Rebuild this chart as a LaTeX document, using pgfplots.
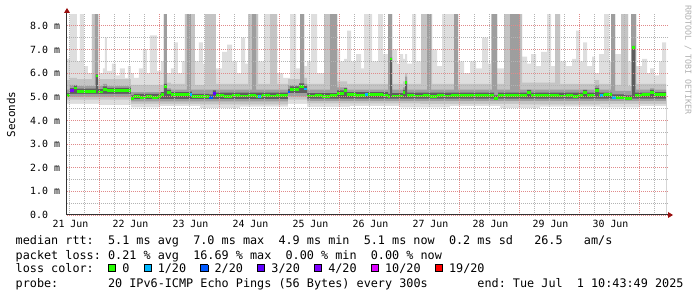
\documentclass[border=0pt]{standalone}
\usepackage{pgfplots}
\usepackage{pgfplotstable}
\pgfplotsset{compat=1.18}
\usepackage{fontspec}
\setmonofont{DejaVu Sans Mono}
\definecolor{sA}{HTML}{DEDEDE}
\definecolor{sB}{HTML}{C4C4C4}
\definecolor{sC}{HTML}{9E9E9E}
\definecolor{sD}{HTML}{5E5E5E}
\definecolor{lossA}{HTML}{26FF00}
\definecolor{lossB}{HTML}{00B8FF}
\definecolor{lossC}{HTML}{0059FF}
\definecolor{lossD}{HTML}{5E00FF}
\definecolor{lossE}{HTML}{7E00FF}
\definecolor{lossF}{HTML}{DD00FF}
\definecolor{lossG}{HTML}{FF0000}
\definecolor{mgrid}{HTML}{E08A8A}
\definecolor{ngrid}{HTML}{B4B4B4}
\definecolor{arr}{HTML}{9A1010}
\definecolor{wm}{HTML}{B0B0B0}
\newcommand\lbox[1]{\makebox[0.602em][l]{\raisebox{1pt}{\fboxsep=0pt\fboxrule=0.9pt\fcolorbox{black}{#1}{\rule{0pt}{6.2pt}\rule{6.2pt}{0pt}}}}}

\pgfplotstableread{
x y
67 6.6
70 8.5
77 6.5
80 8.5
84 6.3
88 6.0
92 8.5
100 6.0
103 6.2
105 7.5
107 6.1
112 6.4
116 5.9
120 6.2
125 5.8
128 6.3
131 6.0
134 5.8
139 6.2
143 7.0
147 6.0
150 7.6
157 6.1
161 6.5
164 8.5
167 6.0
171 6.2
174 7.3
178 6.0
182 6.5
185 8.5
195 6.5
199 7.3
203 6.4
205 8.5
216 6.2
222 6.9
227 7.2
232 6.5
237 6.0
241 7.5
245 6.4
248 8.5
258 6.5
264 8.5
277 6.0
283 5.8
290 8.5
296 6.2
300 8.5
304 6.3
307 6.5
311 8.5
317 6.0
324 8.5
337 7.0
340 6.5
344 6.6
347 7.8
351 6.5
356 6.8
361 6.2
364 8.5
372 6.5
378 8.5
383 6.8
388 8.5
392 7.0
397 6.4
400 6.8
403 6.6
405 6.8
407 6.4
412 8.5
416 6.5
421 8.5
432 7.0
437 6.3
442 8.5
458 6.5
464 6.0
470 6.5
476 6.2
482 7.5
488 6.4
491 8.5
497 6.2
504 8.5
522 6.7
527 6.4
531 6.8
536 6.3
541 6.9
547 8.5
551 6.3
555 8.5
560 6.5
566 6.3
572 6.6
576 7.8
580 6.5
583 7.3
587 6.3
592 6.7
595 6.0
599 6.8
604 8.5
609 6.5
611 8.5
615 6.8
621 8.5
628 6.5
631 8.5
636 6.3
642 6.6
647 6.0
650 6.2
654 5.9
659 6.5
662 7.3
666 7.3
}\hA

\pgfplotstableread{
x y
67 5.7
70 5.8
77 5.75
92 8.5
98 5.75
131 5.5
164 8.5
167 5.6
171 5.55
185 8.5
195 5.5
205 8.5
216 5.55
248 8.5
258 5.55
270 8.5
277 5.55
288 5.75
300 8.5
304 5.8
307 5.55
324 8.5
337 5.65
347 5.55
388 8.5
392 5.55
403 5.65
405 6.0
407 5.55
421 8.5
432 5.55
454 8.5
458 5.55
491 8.5
497 5.55
504 8.5
522 5.6
555 8.5
560 5.55
595 5.7
599 5.55
611 8.5
615 5.5
621 8.5
628 5.45
631 8.5
636 5.55
666 5.55
}\hB

\pgfplotstableread{
x y
67 5.3
70 5.5
77 5.45
95 8.5
98 5.45
103 5.55
107 5.45
131 5.2
164 8.5
167 5.35
171 5.3
187 8.5
191 5.3
252 8.5
256 5.3
288 5.5
300 8.5
304 5.55
307 5.3
330 8.5
337 5.4
347 5.3
388 8.5
392 5.3
403 5.4
405 5.85
407 5.3
427 8.5
431 5.3
454 8.5
458 5.3
492 8.5
497 5.3
510 8.5
520 5.3
595 5.5
599 5.3
611 8.5
615 5.25
631 8.5
636 5.3
650 5.35
654 5.3
666 5.3
}\hC

\pgfplotstableread{
x y
67 5.15
70 5.37
74 5.47
77 5.34
96 5.95
98 5.32
103 5.44
107 5.38
131 5.06
134 5.12
161 5.2
164 5.55
167 5.29
171 5.2
190 5.22
192 5.12
209 5.1
213 5.27
216 5.17
288 5.32
290 5.44
299 5.57
304 5.45
307 5.15
337 5.27
344 5.37
347 5.2
388 5.12
390 6.65
392 5.15
403 5.29
405 5.65
407 5.17
494 5.06
498 5.17
527 5.29
531 5.17
583 5.29
587 5.17
595 5.37
599 5.17
612 5.1
625 5.06
632 7.15
635 5.17
650 5.29
654 5.2
666 5.2
}\hD

\pgfplotstableread{
x y
67 5.12
131 4.9
288 5.15
307 4.92
666 4.92
}\lD

\pgfplotstableread{
x y
67 5.0
131 4.8
288 5.02
307 4.82
666 4.82
}\lC

\pgfplotstableread{
x y
67 4.88
131 4.7
200 4.68
288 4.88
307 4.72
420 4.7
520 4.68
600 4.7
666 4.72
}\lB

\pgfplotstableread{
x y
67 4.7
100 4.65
131 4.55
160 4.6
200 4.52
240 4.58
288 4.7
307 4.57
350 4.6
400 4.55
450 4.6
500 4.52
540 4.58
600 4.55
640 4.6
666 4.6
}\lA

\pgfplotstableread{
x y
67 5.05
70 5.25
74 5.37
77 5.22
96 5.88
98 5.2
103 5.32
107 5.26
131 4.94
134 5.0
140 4.97
146 5.02
152 4.98
158 5.0
161 5.08
164 5.45
167 5.17
171 5.08
190 5.1
192 5.0
209 4.97
213 5.15
216 5.05
224 5.02
232 5.06
240 5.03
248 5.07
256 5.02
262 5.05
270 5.03
276 5.06
282 5.04
288 5.2
290 5.32
299 5.45
304 5.33
307 5.03
315 5.05
322 5.02
330 5.04
337 5.15
344 5.25
347 5.08
356 5.06
365 5.1
368 5.08
378 5.1
383 5.06
388 5.0
390 6.6
392 5.03
403 5.17
405 5.6
407 5.05
415 5.03
423 5.06
430 5.02
437 5.05
444 5.03
451 5.06
458 5.04
465 5.07
472 5.05
480 5.06
487 5.04
494 4.94
498 5.05
505 5.07
512 5.04
520 5.06
527 5.17
531 5.05
538 5.07
545 5.04
552 5.06
559 5.03
566 5.05
573 5.02
578 5.05
583 5.17
587 5.05
595 5.25
599 5.05
604 5.08
612 4.98
625 4.94
632 7.1
635 5.05
642 5.08
650 5.17
654 5.08
666 5.08
}\med

\begin{document}
\begin{tikzpicture}
\useasboundingbox (-67pt,-82pt) rectangle (630pt,215pt);
\begin{axis}[
  at={(0,0)}, anchor=south west,
  scale only axis, width=601pt, height=201pt,
  xmin=67, xmax=668, ymin=0, ymax=8.5,
  axis x line*=bottom, axis y line*=left,
  axis line style={draw=none},
  major tick length=0pt, minor tick length=0pt,
  xtick={69,129,...,609},
  xticklabels={21 Jun,22 Jun,23 Jun,24 Jun,25 Jun,26 Jun,27 Jun,28 Jun,29 Jun,30 Jun},
  extra x ticks={99,159,...,639},
  extra x tick labels={},
  extra x tick style={grid=major, major x grid style={mgrid, line width=0.8pt, dash pattern=on 1pt off 1pt}},
  minor xtick={84,114,...,654},
  ytick={0,1,...,8},
  yticklabels={0.0,1.0 m,2.0 m,3.0 m,4.0 m,5.0 m,6.0 m,7.0 m,8.0 m},
  minor ytick={0.5,1.5,...,7.5},
  grid=both,
  major x grid style={ngrid, line width=0.8pt, dash pattern=on 1pt off 1pt},
  minor x grid style={ngrid, line width=0.8pt, dash pattern=on 1pt off 1pt},
  major y grid style={mgrid, line width=0.8pt, dash pattern=on 1pt off 1pt},
  minor y grid style={ngrid, line width=0.8pt, dash pattern=on 1pt off 1pt},
  axis on top,
  xticklabel style={font=\ttfamily\fontsize{9.9}{10}\selectfont, anchor=base, inner sep=0pt, yshift=-13pt, xshift=1.5pt},
  yticklabel style={font=\ttfamily\fontsize{9.9}{10}\selectfont, anchor=west, inner sep=0pt, xshift=-37pt},
]
\addplot[const plot mark left, fill=sA, draw=none] table {\hA} \closedcycle;
\addplot[const plot mark left, fill=sB, draw=none] table {\hB} \closedcycle;
\addplot[const plot mark left, fill=sC, draw=none] table {\hC} \closedcycle;
\addplot[const plot mark left, fill=sD, draw=none] table {\hD} \closedcycle;
\addplot[const plot mark left, fill=sC, draw=none] table {\lD} \closedcycle;
\addplot[const plot mark left, fill=sB, draw=none] table {\lC} \closedcycle;
\addplot[const plot mark left, fill=sA, draw=none] table {\lB} \closedcycle;
\addplot[const plot mark left, fill=white, draw=none] table {\lA} \closedcycle;
\addplot[jump mark left, lossA, line width=2.8pt] table {\med};
\addplot[jump mark left, lossE, line width=2.8pt] coordinates {(70,5.25) (74,5.25)};
\addplot[jump mark left, lossB, line width=2.8pt] coordinates {(190,5.1) (192,5.1)};
\addplot[jump mark left, lossC, line width=2.8pt] coordinates {(209,4.97) (213,4.97)};
\addplot[jump mark left, lossD, line width=2.8pt] coordinates {(213,5.15) (216,5.15)};
\addplot[jump mark left, lossB, line width=2.8pt] coordinates {(258,5.02) (261,5.02)};
\addplot[jump mark left, lossC, line width=2.8pt] coordinates {(288,5.2) (290,5.2)};
\addplot[jump mark left, lossB, line width=2.8pt] coordinates {(304,5.33) (307,5.33)};
\addplot[jump mark left, lossB, line width=2.8pt] coordinates {(365,5.1) (368,5.1)};
\addplot[jump mark left, lossB, line width=2.8pt] coordinates {(600,5.05) (603,5.05)};
\addplot[jump mark left, lossB, line width=2.8pt] coordinates {(612,4.98) (616,4.98)};
\end{axis}
\draw[line width=1pt, black!80] (0,0) -- (602pt,0);
\draw[line width=1pt, black!80] (0,0) -- (0,203pt);
\fill[arr] (601pt,-3pt) -- (606pt,0pt) -- (601pt,3pt) -- cycle;
\fill[arr] (-3pt,202pt) -- (0pt,207pt) -- (3pt,202pt) -- cycle;
\node[rotate=90, inner sep=0pt, font=\ttfamily\fontsize{10.9}{11}\selectfont] at (-56pt,100.5pt) {Seconds};
\node[rotate=-90, inner sep=0pt, text=wm, font=\ttfamily\fontsize{8.3}{9}\selectfont] at (621pt,155pt) {RRDTOOL / TOBI OETIKER};
\begin{scope}[every node/.style={anchor=base west, inner sep=0pt, font=\ttfamily\fontsize{11.8}{12}\selectfont}]
\node at (-51.5pt,-30pt) {median rtt:~~5.1 ms avg~~7.0 ms max~~4.9 ms min~~5.1 ms now~~0.2 ms sd~~~26.5~~~am/s};
\node at (-51.5pt,-44.5pt) {packet loss: 0.21 \% avg~~16.69 \% max~~0.00 \% min~~0.00 \% now};
\node at (-51.5pt,-57.5pt) {loss color:~~\lbox{lossA}~0~~\lbox{lossB}~1/20~~\lbox{lossC}~2/20~~\lbox{lossD}~3/20~~\lbox{lossE}~4/20~~\lbox{lossF}~10/20~~\lbox{lossG}~19/20};
\node at (-51.5pt,-72.5pt) {probe:~~~~~~~20 IPv6-ICMP Echo Pings (56 Bytes) every 300s~~~~~~~end: Tue Jul~~1 10:43:49 2025};
\end{scope}
\end{tikzpicture}
\end{document}
